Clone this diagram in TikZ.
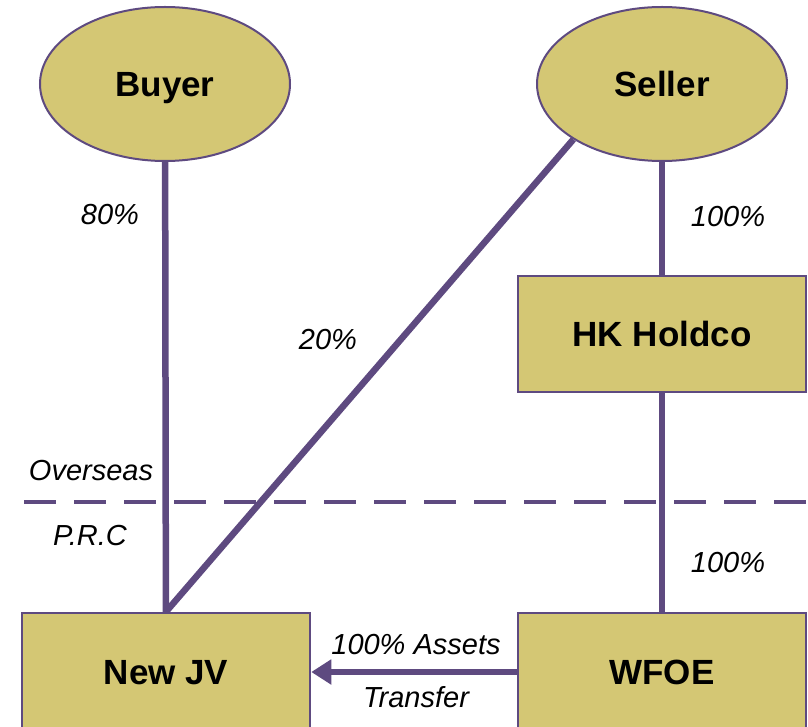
\documentclass[tikz,border=0pt]{standalone}
\usepackage{fontspec}
\setmainfont{Liberation Sans}
\usetikzlibrary{shapes.geometric,arrows.meta}
\definecolor{khaki}{RGB}{212,199,116}
\definecolor{plum}{RGB}{94,74,128}
\tikzset{
  party/.style={ellipse, draw=plum, line width=2pt, fill=khaki, minimum width=250pt, minimum height=154pt, inner sep=0pt, text height=25pt, text depth=0pt, font=\fontsize{35}{40}\selectfont\bfseries},
  entity/.style={rectangle, draw=plum, line width=2.5pt, fill=khaki, minimum width=288pt, inner sep=0pt, text height=25pt, text depth=0pt, font=\fontsize{35}{40}\selectfont\bfseries},
  link/.style={draw=plum, line width=6.5pt},
  lbl/.style={font=\fontsize{29}{34}\selectfont\itshape, inner sep=0pt},
  border/.style={draw=plum, line width=4pt, dash pattern=on 32pt off 18pt}
}
\begin{document}
\begin{tikzpicture}[x=1pt,y=-1pt]
\useasboundingbox (0,0) rectangle (808,727);
\clip (0,0) rectangle (808,727);
\node[party] (buyer) at (165,84) {Buyer};
\node[party] (seller) at (662,84) {Seller};
\node[entity, minimum height=116pt] (hk) at (662,334) {HK Holdco};
\node[entity, minimum height=118pt] (jv) at (166,672) {New JV};
\node[entity, minimum height=118pt] (wfoe) at (662,672) {WFOE};
\coordinate (dl) at (24,502);
\coordinate (dr) at (808,502);
\draw[border] (dl) -- (dr);
\draw[link] (buyer) -- (jv);
\draw[link] (seller) -- (hk);
\draw[link] (hk) -- (wfoe);
\draw[link] (seller.212) -- (jv.north);
\draw[link, -{Triangle[length=20pt,width=24pt]}] (wfoe.west) -- (jv.east);
\node[lbl] (p80) at (110,215) {80\%};
\node[lbl] (p100a) at (728,217) {100\%};
\node[lbl] (p20) at (328,340) {20\%};
\node[lbl] (ovs) at (91,471) {Overseas};
\node[lbl] (prc) at (90,536) {P.R.C};
\node[lbl] (p100b) at (728,563) {100\%};
\node[lbl] (assets) at (416,645) {100\% Assets};
\node[lbl] (transfer) at (416,697) {Transfer};
\end{tikzpicture}
\end{document}
